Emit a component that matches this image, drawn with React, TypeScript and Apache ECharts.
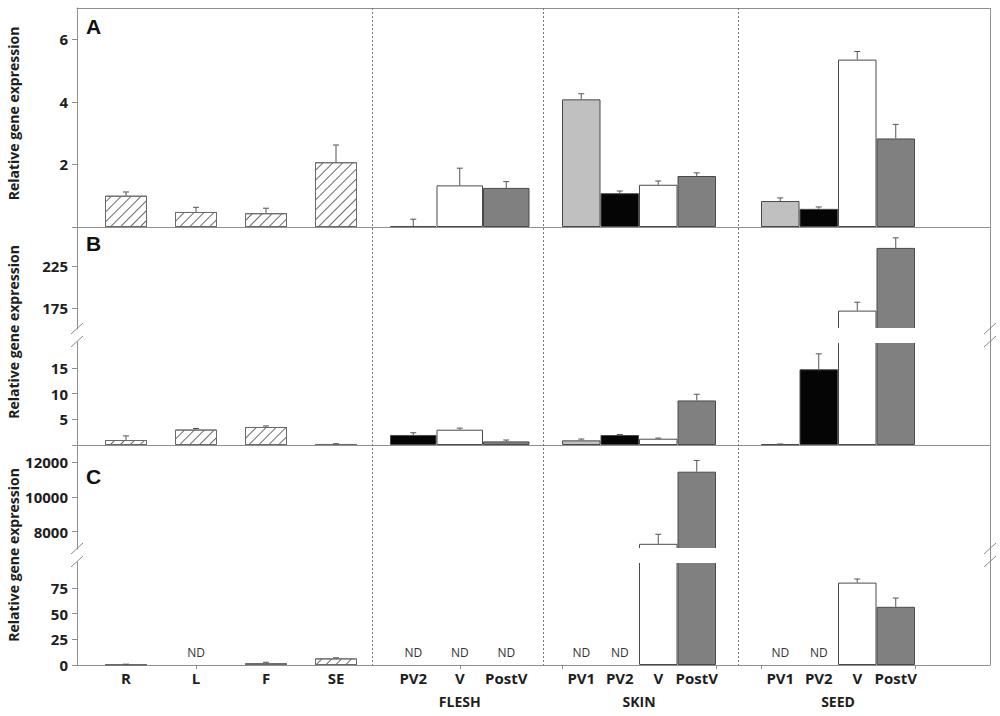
import React, { useEffect, useRef } from 'react';
import * as echarts from 'echarts';

// ---------- categories ----------
const organs = ['R', 'L', 'F', 'SE'];
const fleshStages = ['PV2', 'V', 'PostV'];
const skinStages = ['PV1', 'PV2', 'V', 'PostV'];
const seedStages = ['PV1', 'PV2', 'V', 'PostV'];
const groupNames = ['', 'FLESH', 'SKIN', 'SEED'];

// ---------- Panel A ----------
const organA = [1.0, 0.48, 0.44, 2.07];
const organAErr = [0.12, 0.15, 0.16, 0.55];
const fleshA = [0.03, 1.33, 1.25];
const fleshAErr = [0.22, 0.55, 0.2];
const skinA = [4.08, 1.08, 1.35, 1.63];
const skinAErr = [0.18, 0.07, 0.12, 0.1];
const seedA = [0.83, 0.58, 5.35, 2.83];
const seedAErr = [0.1, 0.06, 0.26, 0.45];

// ---------- Panel B ----------
const organB = [0.97, 3.0, 3.5, 0.2];
const organBErr = [0.8, 0.2, 0.2, 0.05];
const fleshB = [1.95, 2.97, 0.7];
const fleshBErr = [0.43, 0.3, 0.27];
const skinB = [0.9, 1.94, 1.22, 8.65];
const skinBErr = [0.26, 0.11, 0.13, 1.2];
const seedB = [0.15, 14.7, 172, 247];
const seedBErr = [0.05, 3.0, 10, 12];

// ---------- Panel C (null = ND) ----------
const organC = [0.5, null, 1.8, 6.4];
const organCErr = [0.3, null, 0.9, 0.6];
const fleshC = [null, null, null];
const fleshCErr = [null, null, null];
const skinC = [null, null, 7300, 11460];
const skinCErr = [null, null, 550, 650];
const seedC = [null, null, 80, 56.5];
const seedCErr = [null, null, 3.5, 8.5];

// ---------- axis ticks ----------
const ticksA = [0, 2, 4, 6];
const labelsA = [2, 4, 6];
const ticksBUpper = [175, 225];
const ticksBLower = [0, 5, 10, 15];
const labelsBLower = [5, 10, 15];
const ticksCUpper = [8000, 10000, 12000];
const ticksCLower = [0, 25, 50, 75];

const yTitle = 'Relative gene expression';
const panelLetters = ['A', 'B', 'C'];

// ---------- styles / layout ----------
const FONT = '"Open Sans", "DejaVu Sans", sans-serif';
const TEXT = '#1e1e1e';
const FRAME = '#8f8f8f';
const BAR_BORDER = '#4a4a4a';
const stageColor: Record<string, string> = {
  PV1: '#c0c0c0',
  PV2: '#050505',
  V: '#ffffff',
  PostV: '#808080',
};
const HATCH = {
  symbol: 'rect',
  symbolSize: 1,
  rotation: -Math.PI / 4,
  dashArrayX: [1, 0],
  dashArrayY: [1, 6],
  color: '#6a6a6a',
};

const FRAME_L = 77;
const FRAME_R = 990;

const SEGMENTS = [
  { key: 'A', panel: 0, top: 8, bottom: 227, min: 0, max: 7, ticks: ticksA, labels: labelsA, bottomLine: true, topLine: true },
  { key: 'Bu', panel: 1, top: 227, bottom: 329, min: 150, max: 272, ticks: ticksBUpper, labels: ticksBUpper, bottomLine: false, topLine: false },
  { key: 'Bl', panel: 1, top: 342, bottom: 445, min: 0, max: 20, ticks: ticksBLower, labels: labelsBLower, bottomLine: true, topLine: false },
  { key: 'Cu', panel: 2, top: 445, bottom: 549, min: 7000, max: 13000, ticks: ticksCUpper, labels: ticksCUpper, bottomLine: false, topLine: false },
  { key: 'Cl', panel: 2, top: 562, bottom: 665, min: 0, max: 100, ticks: ticksCLower, labels: ticksCLower, bottomLine: true, topLine: false },
];

const GROUPS = [
  { cats: organs, left: 91, right: 371, barWidth: '60%', hatch: true, tickIdx: 1, align: true },
  { cats: fleshStages, left: 390, right: 529.5, barWidth: '100%', hatch: false, tickIdx: 1, align: true },
  { cats: skinStages, left: 562, right: 716, barWidth: '100%', hatch: false, tickIdx: 2, align: false },
  { cats: seedStages, left: 761, right: 915, barWidth: '100%', hatch: false, tickIdx: 2, align: false },
];

const PANEL_DATA: any[][][] = [
  [[organA, organAErr], [fleshA, fleshAErr], [skinA, skinAErr], [seedA, seedAErr]],
  [[organB, organBErr], [fleshB, fleshBErr], [skinB, skinBErr], [seedB, seedBErr]],
  [[organC, organCErr], [fleshC, fleshCErr], [skinC, skinCErr], [seedC, seedCErr]],
];

const SEPARATORS = [372, 543, 738];
const BREAKS = [
  [329, 342],
  [549, 562],
];
const LETTER_POS = [16, 233, 466];

function buildOption() {
  const grid: any[] = [];
  const xAxis: any[] = [];
  const yAxis: any[] = [];
  const series: any[] = [];

  SEGMENTS.forEach((seg) => {
    const h = seg.bottom - seg.top;
    const fg = grid.length;
    grid.push({ left: FRAME_L, top: seg.top, width: FRAME_R - FRAME_L, height: h, outerBoundsMode: 'none' });
    xAxis.push({
      gridIndex: fg, type: 'value', min: 0, max: 1, position: 'bottom', show: seg.bottomLine,
      axisLine: { show: true, lineStyle: { color: FRAME, width: 1 } },
      axisTick: { show: false }, axisLabel: { show: false }, splitLine: { show: false },
    });
    if (seg.topLine) {
      xAxis.push({
        gridIndex: fg, type: 'value', min: 0, max: 1, position: 'top',
        axisLine: { show: true, lineStyle: { color: FRAME, width: 1 } },
        axisTick: { show: false }, axisLabel: { show: false }, splitLine: { show: false },
      });
    }
    yAxis.push({
      gridIndex: fg, type: 'value', min: seg.min, max: seg.max, position: 'left',
      axisLine: { show: true, lineStyle: { color: FRAME, width: 1 } },
      axisTick: { show: true, length: 5, customValues: seg.ticks, lineStyle: { color: FRAME } },
      axisLabel: {
        customValues: seg.labels, margin: 9, color: TEXT, fontFamily: FONT,
        fontWeight: 'bold', fontSize: 15,
        formatter: (v: number) => String(v),
      },
      splitLine: { show: false },
    });

    GROUPS.forEach((g, gi) => {
      const gIdx = grid.length;
      grid.push({ left: g.left, top: seg.top, width: g.right - g.left, height: h, outerBoundsMode: 'none' });
      const isBottom = seg.key === 'Cl';
      const xi = xAxis.length;
      xAxis.push({
        gridIndex: gIdx, type: 'category', data: g.cats, boundaryGap: true, show: isBottom,
        position: 'bottom',
        axisLine: { show: false },
        axisTick: {
          show: true, length: 4, alignWithLabel: g.align,
          interval: (i: number) => i === g.tickIdx,
          lineStyle: { color: FRAME },
        },
        axisLabel: {
          interval: 0, margin: 5, color: TEXT, fontFamily: FONT, fontWeight: 'bold', fontSize: 15,
        },
        name: groupNames[gi], nameLocation: 'middle', nameGap: 29,
        nameTextStyle: { color: TEXT, fontFamily: FONT, fontWeight: 'bold', fontSize: 14 },
        splitLine: { show: false },
      });
      const yi = yAxis.length;
      yAxis.push({ gridIndex: gIdx, type: 'value', min: seg.min, max: seg.max, show: false, splitLine: { show: false } });

      const [vals, errs] = PANEL_DATA[seg.panel][gi];
      series.push({
        type: 'bar', xAxisIndex: xi, yAxisIndex: yi, barWidth: g.barWidth, clip: true,
        data: vals.map((v: number | null, i: number) => ({
          value: v,
          itemStyle: g.hatch
            ? { color: '#ffffff', decal: HATCH, borderColor: '#6a6a6a', borderWidth: 1 }
            : { color: stageColor[g.cats[i]], borderColor: BAR_BORDER, borderWidth: 1 },
        })),
      });
      const errData: any[] = [];
      vals.forEach((v: number | null, i: number) => {
        if (v != null && errs[i] != null) errData.push([i, v, errs[i]]);
      });
      series.push({
        type: 'custom', xAxisIndex: xi, yAxisIndex: yi, clip: true, z: 5,
        encode: { x: 0, y: 1 },
        data: errData,
        renderItem: (params: any, api: any) => {
          const idx = api.value(0);
          const v = api.value(1);
          const e = api.value(2);
          const p0 = api.coord([idx, v]);
          const p1 = api.coord([idx, v + e]);
          const st = { stroke: '#555555', lineWidth: 1 };
          return {
            type: 'group',
            children: [
              { type: 'line', shape: { x1: p0[0], y1: p0[1], x2: p1[0], y2: p1[1] }, style: st },
              { type: 'line', shape: { x1: p1[0] - 3, y1: p1[1], x2: p1[0] + 3, y2: p1[1] }, style: st },
            ],
          };
        },
      });
      if (isBottom) {
        const ndData: any[] = [];
        vals.forEach((v: number | null, i: number) => {
          if (v == null) ndData.push([i, 0]);
        });
        if (ndData.length) {
          series.push({
            type: 'custom', xAxisIndex: xi, yAxisIndex: yi, z: 6,
            encode: { x: 0, y: 1 },
            data: ndData,
            renderItem: (params: any, api: any) => {
              const p = api.coord([api.value(0), 0]);
              return {
                type: 'text', x: p[0], y: p[1] - 13,
                style: {
                  text: 'ND', fill: '#333', font: `12px ${FONT}`,
                  align: 'center', verticalAlign: 'middle',
                  textAlign: 'center', textVerticalAlign: 'middle',
                },
              };
            },
          });
        }
      }
    });
  });

  const graphic: any[] = [];
  // white mask over the axis-break gaps (hides the cut edges of the broken bars)
  BREAKS.forEach(([t, b]) => {
    graphic.push({
      type: 'rect', silent: true, z: 8,
      shape: { x: FRAME_L + 1, y: t - 1, width: FRAME_R - FRAME_L - 2, height: b - t + 2 },
      style: { fill: '#ffffff', stroke: null },
    });
  });
  // continuous right border
  graphic.push({
    type: 'line', silent: true, z: 9,
    shape: { x1: FRAME_R + 0.5, y1: SEGMENTS[0].top, x2: FRAME_R + 0.5, y2: SEGMENTS[4].bottom },
    style: { stroke: FRAME, lineWidth: 1 },
  });
  SEPARATORS.forEach((x) => {
    graphic.push({
      type: 'line', silent: true, z: 9,
      shape: { x1: x + 0.5, y1: SEGMENTS[0].top, x2: x + 0.5, y2: SEGMENTS[4].bottom },
      style: { stroke: '#777', lineWidth: 1, lineDash: [2, 2] },
    });
  });
  BREAKS.forEach(([t, b]) => {
    [FRAME_L, FRAME_R].forEach((x) => {
      [t, b].forEach((y) => {
        graphic.push({
          type: 'line', silent: true, z: 10,
          shape: { x1: x - 6, y1: y + 5, x2: x + 6, y2: y - 6 },
          style: { stroke: '#8a8a8a', lineWidth: 1 },
        });
      });
    });
  });
  const panelCenters = [
    (SEGMENTS[0].top + SEGMENTS[0].bottom) / 2 - 4,
    (SEGMENTS[1].top + SEGMENTS[2].bottom) / 2 - 4,
    (SEGMENTS[3].top + SEGMENTS[4].bottom) / 2,
  ];
  panelCenters.forEach((cy, i) => {
    graphic.push({
      type: 'text', x: 13, y: cy, rotation: Math.PI / 2,
      style: {
        text: yTitle, fill: TEXT, font: `bold 14px ${FONT}`,
        align: 'center', verticalAlign: 'middle', textAlign: 'center', textVerticalAlign: 'middle',
      },
    });
    graphic.push({
      type: 'text', x: 86, y: LETTER_POS[i],
      style: {
        text: panelLetters[i], fill: '#111', font: 'bold 21px "Liberation Sans", Arial, sans-serif',
        align: 'left', verticalAlign: 'top', textAlign: 'left', textVerticalAlign: 'top',
      },
    });
  });

  return {
    animation: false,
    backgroundColor: '#ffffff',
    grid,
    xAxis,
    yAxis,
    series,
    graphic,
  };
}

export default function App() {
  const ref = useRef<HTMLDivElement>(null);
  useEffect(() => {
    const chart = echarts.init(ref.current!, null, { renderer: 'svg' });
    chart.setOption(buildOption() as any);
    return () => chart.dispose();
  }, []);
  return (
    <div
      ref={ref}
      style={{ position: 'fixed', left: 0, top: 0, width: 1000, height: 716, background: '#fff' }}
    />
  );
}
